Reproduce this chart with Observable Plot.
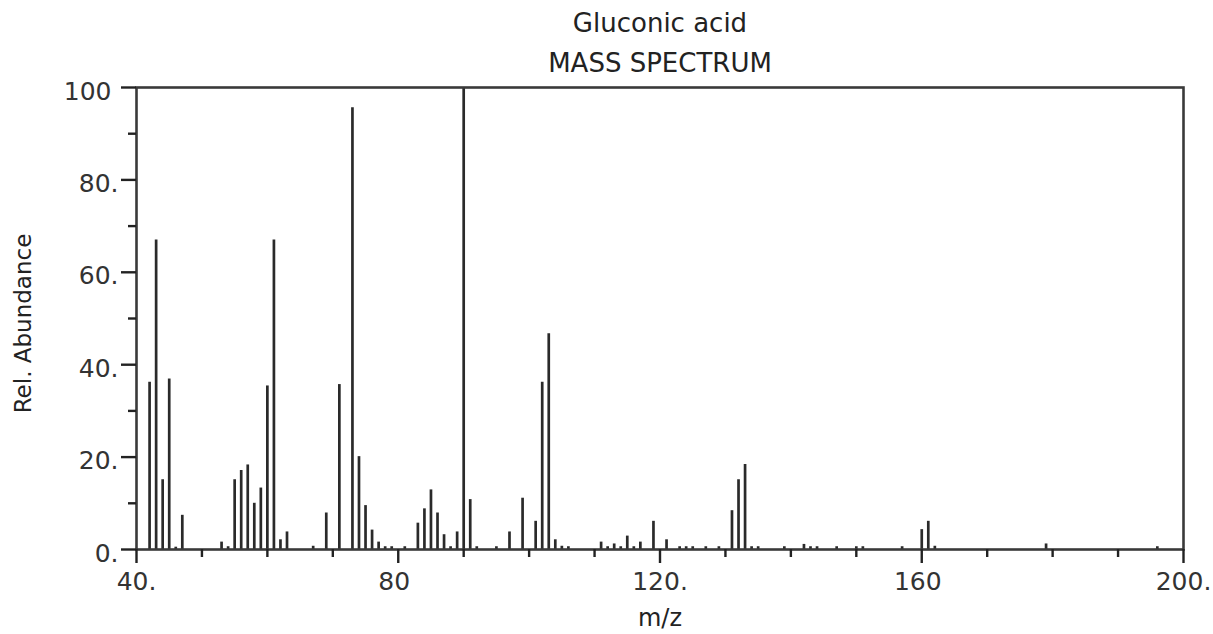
<!DOCTYPE html>
<html>
<head>
<meta charset="utf-8">
<script src="https://cdn.jsdelivr.net/npm/d3@7"></script>
<script src="https://cdn.jsdelivr.net/npm/@observablehq/plot@0.6"></script>
<style>
  html, body { margin: 0; padding: 0; background: #fff; }
</style>
</head>
<body>
<div id="chart"></div>
<script>
const title = "Gluconic acid";
const subtitle = "MASS SPECTRUM";
const xLabel = "m/z";
const yLabel = "Rel. Abundance";

const mz = [42, 43, 44, 45, 46, 47, 53, 54, 55, 56, 57, 58, 59, 60, 61, 62, 63, 67, 69,
  71, 73, 74, 75, 76, 77, 78, 79, 81, 83, 84, 85, 86, 87, 88, 89, 90, 91, 92, 95, 97, 99,
  101, 102, 103, 104, 105, 106, 111, 112, 113, 114, 115, 116, 117, 119, 121, 123, 124, 125,
  127, 129, 131, 132, 133, 134, 135, 139, 142, 143, 144, 147, 150, 151, 157, 160, 161, 162,
  179, 196];
const abundance = [36.2, 67.0, 15.1, 36.9, 0.5, 7.4, 1.6, 0.6, 15.1, 17.1, 18.3, 10.0, 13.3, 35.4, 67.0, 2.1, 3.8, 0.7, 7.9,
  35.7, 95.6, 20.1, 9.5, 4.2, 1.6, 0.6, 0.6, 0.6, 5.7, 8.8, 12.9, 7.9, 3.2, 0.6, 3.8, 100, 10.8, 0.6, 0.6, 3.8, 11.1,
  6.1, 36.2, 46.7, 2.1, 0.7, 0.6, 1.6, 0.6, 1.2, 0.6, 2.9, 0.6, 1.6, 6.1, 2.1, 0.6, 0.6, 0.6,
  0.6, 0.6, 8.4, 15.1, 18.4, 0.6, 0.6, 0.6, 1.1, 0.6, 0.6, 0.6, 0.6, 0.6, 0.6, 4.3, 6.1, 0.7,
  1.2, 0.6];

const xMajorTicks = [40, 80, 120, 160, 200];
const xDotLabelTicks = [40, 120, 200];
const xDotLabels = ["40.", "120.", "200."];
const xNoDotLabelTicks = [80, 160];
const xNoDotLabels = ["80", "160"];
const xMinorTicks = [50, 60, 70, 90, 100, 110, 130, 140, 150, 170, 180, 190];
const yMajorTicks = [0, 20, 40, 60, 80, 100];
const yDotLabelTicks = [0, 20, 40, 60, 80];
const yDotLabels = ["0.", "20.", "40.", "60.", "80."];
const yTopTick = [100];
const yTopLabel = ["100"];
const yMinorTicks = [10, 30, 50, 70, 90];

const data = mz.map((m, i) => ({mz: m, ab: abundance[i]}));

const chart = Plot.plot({
  width: 1213,
  height: 634,
  marginLeft: 136,
  marginRight: 30,
  marginTop: 87,
  marginBottom: 85,
  x: {domain: [40, 200]},
  y: {domain: [0, 100]},
  style: {fontFamily: "DejaVu Sans", fontSize: "25px", background: "#fff", color: "#222"},
  marks: [
    Plot.ruleX(data, {x: "mz", y1: 0, y2: "ab", stroke: "#2a2a2a", strokeWidth: 2.7}),
    Plot.frame({stroke: "#3a3a3a", strokeWidth: 2.6}),
    // ticks
    Plot.axisX({ticks: xMinorTicks, tickSize: 8, tickFormat: () => "", label: null, strokeWidth: 2.4}),
    Plot.axisX({ticks: xMajorTicks, tickSize: 14, tickFormat: () => "", label: null, strokeWidth: 2.4}),
    Plot.axisY({ticks: yMinorTicks, tickSize: 8, tickFormat: () => "", label: null, strokeWidth: 2.4}),
    Plot.axisY({ticks: yMajorTicks, tickSize: 15, tickFormat: () => "", label: null, strokeWidth: 2.4}),
    // tick labels
    Plot.axisX({ticks: xDotLabelTicks, tickSize: 0, tickPadding: 23, label: null,
      tickFormat: d => xDotLabels[xDotLabelTicks.indexOf(d)], fill: "#333"}),
    Plot.axisX({ticks: xNoDotLabelTicks, tickSize: 0, tickPadding: 23, label: null, dx: -4,
      tickFormat: d => xNoDotLabels[xNoDotLabelTicks.indexOf(d)], fill: "#333"}),
    Plot.axisY({ticks: yDotLabelTicks, tickSize: 0, tickPadding: 18, label: null, dy: 4,
      tickFormat: d => yDotLabels[yDotLabelTicks.indexOf(d)], fill: "#333"}),
    Plot.axisY({ticks: yTopTick, tickSize: 0, tickPadding: 25, label: null, dy: 4,
      tickFormat: d => yTopLabel[yTopTick.indexOf(d)], fill: "#333"}),
    // titles
    Plot.text([title], {frameAnchor: "top", text: d => d, lineAnchor: "middle", textAnchor: "middle", dy: -64, fontSize: 26, fill: "#222"}),
    Plot.text([subtitle], {frameAnchor: "top", text: d => d, lineAnchor: "middle", textAnchor: "middle", dy: -24, fontSize: 26, fill: "#222"}),
    Plot.text([xLabel], {frameAnchor: "bottom", text: d => d, lineAnchor: "middle", textAnchor: "middle", dy: 69, fontSize: 24, fill: "#222"}),
    Plot.text([yLabel], {frameAnchor: "left", text: d => d, lineAnchor: "middle", textAnchor: "middle", rotate: -90, dx: -113, dy: 5, fontSize: 23, fill: "#222"})
  ]
});
document.getElementById("chart").appendChild(chart);
</script>
</body>
</html>
